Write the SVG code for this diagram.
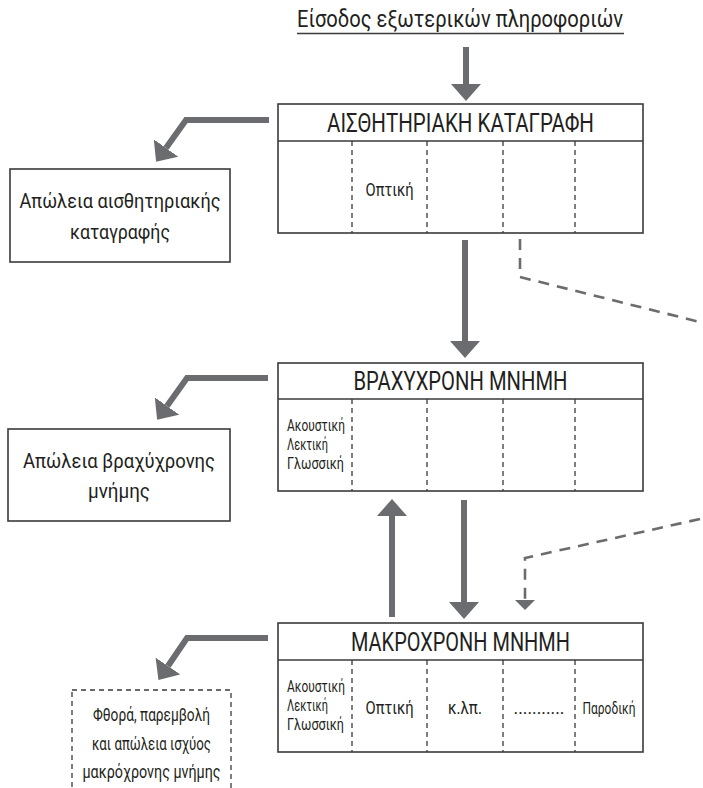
<svg xmlns="http://www.w3.org/2000/svg" width="703" height="788" viewBox="0 0 703 788">
<defs>
<style>
text{font-family:"Liberation Sans Narrow","Roboto","Liberation Sans",sans-serif;fill:#231f20;}
.c{text-anchor:middle;}
.box{fill:#fff;stroke:#3a3a3a;stroke-width:1.6;}
.div{stroke:#3a3a3a;stroke-width:1.3;stroke-dasharray:5 4;fill:none;}
.sh{fill:none;stroke:#6b6c6f;stroke-width:6;stroke-linejoin:miter;}
.dsh{fill:none;stroke:#6b6c6f;stroke-width:2.6;stroke-dasharray:11 8;}
.t1{font-size:25px;}
.t2{font-size:21px;}
.t3{font-size:18px;}
.t4{font-size:16.5px;}
</style>
<marker id="ah" viewBox="0 -15 17 30" refX="0" refY="0" markerWidth="17" markerHeight="30" markerUnits="userSpaceOnUse" orient="auto">
<path d="M0,-15 L17,0 L0,15 z" fill="#6b6c6f"/>
</marker>
<marker id="ahs" viewBox="0 -10 10 20" refX="0" refY="0" markerWidth="10" markerHeight="20" markerUnits="userSpaceOnUse" orient="auto">
<path d="M0,-10 L10,0 L0,10 z" fill="#6b6c6f"/>
</marker>
</defs>

<g id="input">
<text class="c" x="460" y="27" font-size="23" textLength="326" lengthAdjust="spacingAndGlyphs">Είσοδος εξωτερικών πληροφοριών</text>
<line x1="297" y1="33.5" x2="624" y2="33.5" stroke="#3a3a3a" stroke-width="1.6"/>
</g>

<g id="sensory">
<rect class="box" x="278" y="104" width="365" height="129"/>
<line x1="278" y1="141" x2="643" y2="141" stroke="#3a3a3a" stroke-width="1.6"/>
<line class="div" x1="352" y1="141" x2="352" y2="233"/>
<line class="div" x1="427" y1="141" x2="427" y2="233"/>
<line class="div" x1="503" y1="141" x2="503" y2="233"/>
<line class="div" x1="575" y1="141" x2="575" y2="233"/>
<text class="c t1" x="460.5" y="131.5" textLength="267" lengthAdjust="spacingAndGlyphs">ΑΙΣΘΗΤΗΡΙΑΚΗ ΚΑΤΑΓΡΑΦΗ</text>
<text class="c t3" x="389.5" y="196" textLength="48" lengthAdjust="spacingAndGlyphs">Οπτική</text>
</g>

<g id="loss-sensory">
<rect class="box" x="10" y="169" width="220" height="93"/>
<text class="c t2" x="120" y="208" textLength="201" lengthAdjust="spacingAndGlyphs">Απώλεια αισθητηριακής</text>
<text class="c t2" x="120" y="239" textLength="100" lengthAdjust="spacingAndGlyphs">καταγραφής</text>
</g>

<g id="short-term">
<rect class="box" x="278" y="363" width="365" height="128"/>
<line x1="278" y1="399" x2="643" y2="399" stroke="#3a3a3a" stroke-width="1.6"/>
<line class="div" x1="352" y1="399" x2="352" y2="491"/>
<line class="div" x1="427" y1="399" x2="427" y2="491"/>
<line class="div" x1="503" y1="399" x2="503" y2="491"/>
<line class="div" x1="575" y1="399" x2="575" y2="491"/>
<text class="c t1" x="460.5" y="389.5" textLength="214" lengthAdjust="spacingAndGlyphs">ΒΡΑΧΥΧΡΟΝΗ ΜΝΗΜΗ</text>
<text class="t4" x="287" y="431" textLength="58" lengthAdjust="spacingAndGlyphs">Ακουστική</text>
<text class="t4" x="287" y="450" textLength="41" lengthAdjust="spacingAndGlyphs">Λεκτική</text>
<text class="t4" x="287" y="469" textLength="57" lengthAdjust="spacingAndGlyphs">Γλωσσική</text>
</g>

<g id="loss-short">
<rect class="box" x="8" y="429" width="222" height="92"/>
<text class="c t2" x="119" y="468" textLength="192" lengthAdjust="spacingAndGlyphs">Απώλεια βραχύχρονης</text>
<text class="c t2" x="119" y="498" textLength="62" lengthAdjust="spacingAndGlyphs">μνήμης</text>
</g>

<g id="long-term">
<rect class="box" x="278" y="623" width="365" height="129"/>
<line x1="278" y1="660" x2="643" y2="660" stroke="#3a3a3a" stroke-width="1.6"/>
<line class="div" x1="352" y1="660" x2="352" y2="752"/>
<line class="div" x1="427" y1="660" x2="427" y2="752"/>
<line class="div" x1="503" y1="660" x2="503" y2="752"/>
<line class="div" x1="575" y1="660" x2="575" y2="752"/>
<text class="c t1" x="460.5" y="650.5" textLength="219" lengthAdjust="spacingAndGlyphs">ΜΑΚΡΟΧΡΟΝΗ ΜΝΗΜΗ</text>
<text class="t4" x="287" y="692" textLength="58" lengthAdjust="spacingAndGlyphs">Ακουστική</text>
<text class="t4" x="287" y="711" textLength="41" lengthAdjust="spacingAndGlyphs">Λεκτική</text>
<text class="t4" x="287" y="730" textLength="57" lengthAdjust="spacingAndGlyphs">Γλωσσική</text>
<text class="c t3" x="389.5" y="714" textLength="48" lengthAdjust="spacingAndGlyphs">Οπτική</text>
<text class="c t3" x="465" y="714" textLength="34" lengthAdjust="spacingAndGlyphs">κ.λπ.</text>
<text class="c t3" x="539" y="714" textLength="51" lengthAdjust="spacingAndGlyphs">...........</text>
<text class="c t4" x="609" y="714" textLength="53" lengthAdjust="spacingAndGlyphs">Παροδική</text>
</g>

<g id="loss-long">
<rect x="72" y="690" width="159" height="110" fill="#fff" stroke="#3a3a3a" stroke-width="1.3" stroke-dasharray="5 4"/>
<text class="c t3" x="151.5" y="721" textLength="117" lengthAdjust="spacingAndGlyphs">Φθορά, παρεμβολή</text>
<text class="c t3" x="151.5" y="750" textLength="119" lengthAdjust="spacingAndGlyphs">και απώλεια ισχύος</text>
<text class="c t3" x="151.5" y="778" textLength="138" lengthAdjust="spacingAndGlyphs">μακρόχρονης μνήμης</text>
</g>

<g id="connectors">
<path class="sh" d="M466,47 L466,84" marker-end="url(#ah)"/>
<path class="sh" d="M465,240 L465,341" marker-end="url(#ah)"/>
<path class="sh" d="M464,500 L464,602" marker-end="url(#ah)"/>
<path class="sh" d="M392,617 L392,516" marker-end="url(#ah)"/>
<path class="sh" d="M269,120 L186,120 L166,148" marker-end="url(#ah)"/>
<path class="sh" d="M268,378 L187,378 L167,406" marker-end="url(#ah)"/>
<path class="sh" d="M268,638 L187,638 L168,666" marker-end="url(#ah)"/>
<path class="dsh" d="M520,239 L520,277 L700,322"/>
<path class="dsh" d="M700,519 L525,558 L525,600" marker-end="url(#ahs)"/>
</g>
</svg>
